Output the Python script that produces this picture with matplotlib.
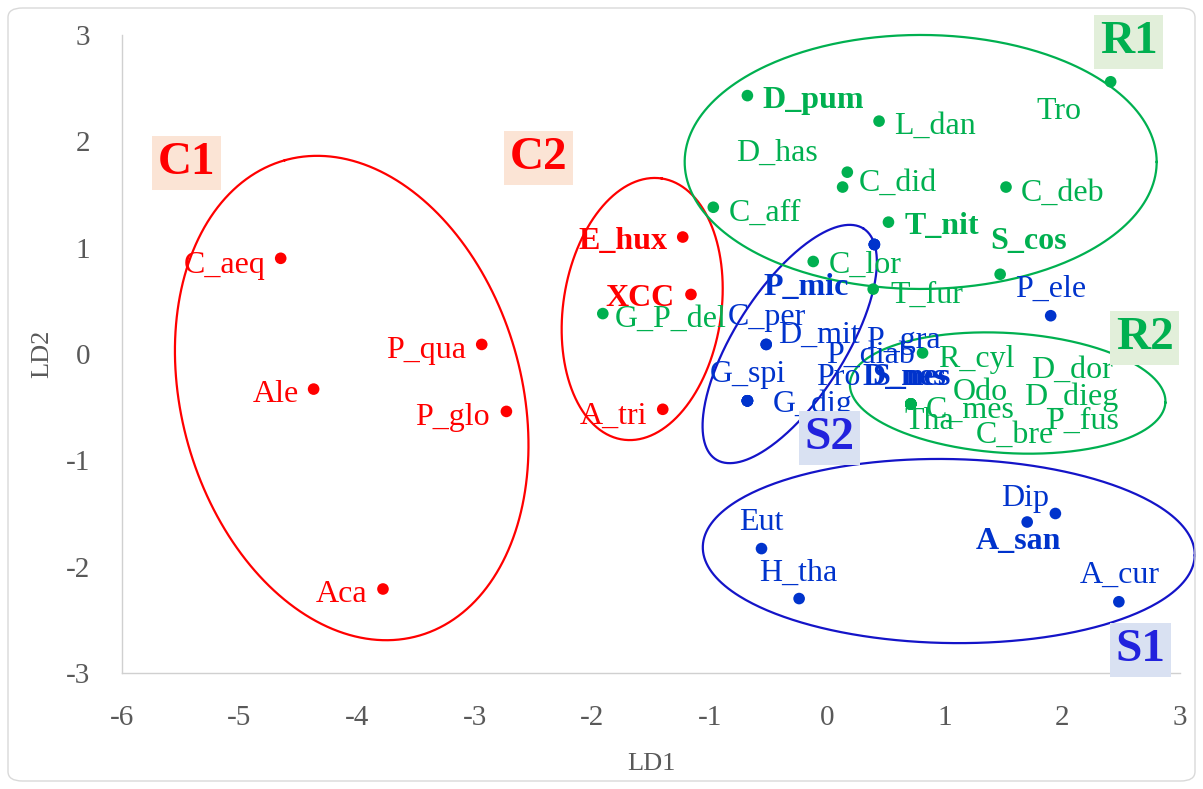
import numpy as np
import matplotlib
matplotlib.use("Agg")
import matplotlib.pyplot as plt
from matplotlib.patches import FancyBboxPatch

plt.rcParams['font.family'] = ['Liberation Serif', 'DejaVu Serif']

# ---------------- data ----------------
red_names = ["C_aeq", "P_qua", "Ale", "P_glo", "Aca", "E_hux", "XCC", "A_tri"]
red_x = [-4.65, -2.94, -4.37, -2.73, -3.78, -1.23, -1.16, -1.40]
red_y = [0.90, 0.09, -0.33, -0.54, -2.21, 1.10, 0.56, -0.52]
red_bold = [False, False, False, False, False, True, True, False]

green_names = ["G_P_del", "D_pum", "L_dan", "C_did", "D_has", "C_aff", "C_deb", "Tro",
               "T_nit", "S_cos", "C_lor", "T_fur", "R_cyl", "C_mes", "Tha", "Odo",
               "D_dor", "D_dieg", "C_bre", "P_fus"]
green_x = [-1.91, -0.68, 0.44, 0.17, 0.13, -0.97, 1.52, 2.41,
           0.52, 1.47, -0.12, 0.39, 0.81, 0.71, 0.71, 0.71,
           0.71, 0.71, 0.71, 0.71]
green_y = [0.38, 2.43, 2.19, 1.71, 1.57, 1.38, 1.57, 2.56,
           1.24, 0.75, 0.87, 0.61, 0.01, -0.47, -0.47, -0.47,
           -0.47, -0.47, -0.47, -0.47]
green_bold = [False, True, False, False, False, False, False, False,
              True, True, False, False, False, False, False, False,
              False, False, False, False]

blue_names = ["P_mic", "P_gra", "P_diab", "D_mit", "C_per", "G_dig", "G_spi", "Pro",
              "D_nes", "S_nes", "P_ele", "Eut", "H_tha", "Dip", "A_san", "A_cur"]
blue_x = [0.40, 0.40, 0.40, -0.52, -0.52, -0.68, -0.68, -0.68,
          -0.68, -0.68, 1.90, -0.56, -0.24, 1.94, 1.70, 2.48]
blue_y = [1.03, 1.03, 1.03, 0.09, 0.09, -0.44, -0.44, -0.44,
          -0.44, -0.44, 0.36, -1.83, -2.30, -1.50, -1.58, -2.33]
blue_bold = [True, False, False, False, False, False, False, False,
             True, True, False, False, False, False, True, False]

cluster_names = ["C1", "C2", "R1", "R2", "S2", "S1"]
x_ticks = [-6, -5, -4, -3, -2, -1, 0, 1, 2, 3]
y_ticks = [-3, -2, -1, 0, 1, 2, 3]

# ---------------- layout / style (pixel offsets of labels) ----------------
red_off = [(-56, 4), (-56, 3), (-38, 2), (-54, 3), (-41, 3), (-60, 1), (-51, 1), (-49, 4)]
green_off = [(68, 3), (66, 2), (56, 2), (51, 8), (-66, -37), (52, 3), (57, 3), (-52, 27),
             (53, 1), (28, -36), (52, 1), (54, 3), (54, 4), (59, 3), (19, 15), (70, -14),
             (161, -37), (160, -9), (104, 28), (172, 14)]
blue_off = [(-68, 40), (29, 93), (-4, 108), (53, -12), (1, -30), (65, 1), (0, -29), (91, -26),
            (157, -26), (164, -26), (0, -29), (0, -29), (-1, -28), (-30, -18), (-9, 16), (1, -29)]

RED = '#FF0000'
GREEN = '#00B050'
BLUE_DOT = '#0033CC'
BLUE_TXT = '#0033CC'
BLUE_ELL = '#1414C8'
GRAY = '#595959'

W, H = 1203, 789
fig = plt.figure(figsize=(W / 100, H / 100), dpi=100)
ax_l, ax_r, ax_t, ax_b = 122, 1180, 35, 673
ax = fig.add_axes([ax_l / W, (H - ax_b) / H, (ax_r - ax_l) / W, (ax_b - ax_t) / H])
ax.set_xlim(-6, 3)
ax.set_ylim(-3, 3)
ppu_x = (ax_r - ax_l) / 9.0
ppu_y = (ax_b - ax_t) / 6.0

# figure border
fig.patches.append(FancyBboxPatch((8 / W, 8 / H), (W - 16) / W, (H - 16) / H,
                                  boxstyle="round,pad=0,rounding_size=0.012",
                                  transform=fig.transFigure, fc='none', ec='#D9D9D9', lw=1.0))

for s in ['top', 'right']:
    ax.spines[s].set_visible(False)
for s in ['left', 'bottom']:
    ax.spines[s].set_color('#D0D0D0')
    ax.spines[s].set_linewidth(1.0)
ax.set_xticks(x_ticks)
ax.set_yticks(y_ticks)
ax.set_xticklabels([str(v) for v in x_ticks])
ax.set_yticklabels([str(v) for v in y_ticks])
ax.tick_params(length=0, labelsize=21, labelcolor=GRAY)
ax.tick_params(axis='x', pad=23)
ax.tick_params(axis='y', pad=23)
ax.set_xlabel("LD1", fontsize=19, color=GRAY, labelpad=16)
ax.set_ylabel("LD2", fontsize=19, color=GRAY, labelpad=9)

# ellipses (center in data, semi-axes in px, angle in display degrees)
ellipses = [
    (-4.046, -0.414, 247, 170, 105.7, RED),
    (-1.575, 0.423, 132, 79, 81.5, RED),
    (-0.320, 0.094, 137, 55, 57.4, BLUE_ELL),
    (0.794, 1.806, 236, 127, 0.0, GREEN),
    (1.534, -0.367, 158, 60, -3.5, GREEN),
    (1.033, -1.853, 246, 92, -1.0, BLUE_ELL),
]
t = np.linspace(0, 2 * np.pi, 400)
for cx, cy, a, b, ang, col in ellipses:
    ph = np.deg2rad(ang)
    dx = a * np.cos(t) * np.cos(ph) - b * np.sin(t) * np.sin(ph)
    dy = a * np.cos(t) * np.sin(ph) + b * np.sin(t) * np.cos(ph)
    ax.plot(cx + dx / ppu_x, cy + dy / ppu_y, color=col, lw=1.6, zorder=2, clip_on=False)

def draw_group(xs, ys, names, bolds, offs, dotcol, txtcol):
    ax.scatter(xs, ys, s=70, color=dotcol, zorder=3, edgecolors='none', clip_on=False)
    for x, y, n, bd, (ox, oy) in zip(xs, ys, names, bolds, offs):
        ax.annotate(n, (x, y), xytext=(ox * 0.72, -(oy + 10.5) * 0.72),
                    textcoords='offset points', ha='center', va='baseline',
                    fontsize=23, color=txtcol,
                    fontweight='bold' if bd else 'normal',
                    annotation_clip=False, zorder=4)

draw_group(red_x, red_y, red_names, red_bold, red_off, RED, RED)
draw_group(green_x, green_y, green_names, green_bold, green_off, GREEN, GREEN)
draw_group(blue_x, blue_y, blue_names, blue_bold, blue_off, BLUE_DOT, BLUE_TXT)

# cluster labels
cl_pos = [(-5.449, 1.796), (-2.455, 1.843), (2.564, 2.934), (2.700, 0.150), (0.020, -0.790), (2.666, -2.784)]
cl_txt = [RED, RED, GREEN, GREEN, '#2222DD', '#2222DD']
cl_bg = ['#FBE4D5', '#FBE4D5', '#E2EFDA', '#E2EFDA', '#D9E1F2', '#D9E1F2']
for n, (x, y), tc, bg in zip(cluster_names, cl_pos, cl_txt, cl_bg):
    ax.text(x, y, n, ha='center', va='center', fontsize=34, fontweight='bold', color=tc,
            bbox=dict(boxstyle='square,pad=0.12', fc=bg, ec='none'), zorder=5, clip_on=False)

fig.savefig("out.png", dpi=100)
